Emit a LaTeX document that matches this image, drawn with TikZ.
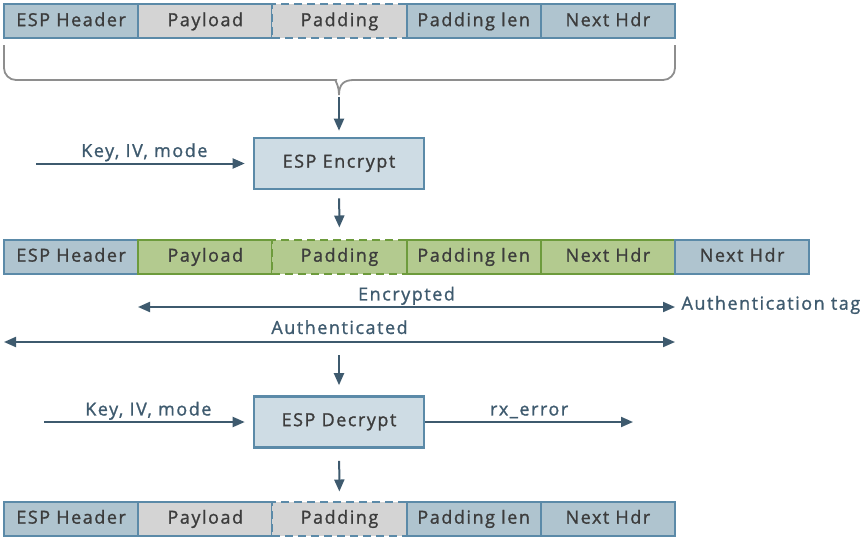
\documentclass[tikz,border=0pt]{standalone}
\usepackage{fontspec}
\setmainfont{Open Sans}[LetterSpace=8.5, FakeBold=1.2]
\usetikzlibrary{positioning,arrows.meta}
\definecolor{slate}{HTML}{3E5A6E}
\definecolor{frame}{HTML}{5B8AA8}
\definecolor{steel}{HTML}{AFC4CF}
\definecolor{lgray}{HTML}{D4D4D4}
\definecolor{leaf}{HTML}{B3CA8F}
\definecolor{leafline}{HTML}{6D9B3C}
\definecolor{pale}{HTML}{CEDCE4}
\definecolor{txt}{HTML}{3C3C3C}
\definecolor{brace}{HTML}{8E8E8E}

\begin{document}
\begin{tikzpicture}[x=1pt, y=-1pt,
    cell/.style={draw=frame, line width=2pt, minimum width=134.2pt, minimum height=34pt,
      inner sep=0pt, outer sep=0pt, text height=1.25em, text depth=0.22em,
      font=\fontsize{18}{20}\selectfont, text=txt},
    hdr/.style={cell, fill=steel},
    pay/.style={cell, fill=lgray},
    pad/.style={cell, fill=lgray, dash pattern=on 8pt off 5pt},
    grn/.style={cell, fill=leaf, draw=leafline},
    grnpad/.style={grn, dash pattern=on 8pt off 5pt},
    box/.style={draw=frame, line width=2.6pt, fill=pale, minimum width=170pt, minimum height=51pt,
      text height=1.05em, text depth=0.22em, font=\fontsize{18}{20}\selectfont, text=txt},
    arr/.style={draw=slate, line width=2pt, -{Triangle[length=12pt,width=10pt]}},
    both/.style={draw=slate, line width=2pt, {Triangle[length=12pt,width=10pt]}-{Triangle[length=12pt,width=10pt]}},
    lbl/.style={text=slate, text height=0.75em, text depth=0.22em, font=\fontsize{18}{20}\selectfont}]
  \useasboundingbox (0,0) rectangle (864,538);

  % plain packet
  \node[hdr] (h1) at (71.1,21) {ESP Header};
  \node[pay, right=0pt of h1] (p1) {Payload};
  \node[pad, right=0pt of p1] (d1) {Padding};
  \node[hdr, right=0pt of d1] (l1) {Padding len};
  \node[hdr, right=0pt of l1] (n1) {Next Hdr};

  \draw[brace, line width=1.8pt] (4,45) [rounded corners=12pt] -- (4,80) -- (324,80) [sharp corners]
    .. controls (334,80) and (339,84) .. (339,95) .. controls (339,84) and (344,80) .. (354,80)
    [rounded corners=12pt] -- (675,80) -- (675,45);
  \coordinate (bt) at (339,97);

  % encrypt
  \node[box] (enc) at (339,163.5) {ESP Encrypt};
  \draw[arr, shorten >=6pt] (bt) -- (enc);
  \coordinate (k1) at (36,163.5);
  \draw[arr, shorten >=8pt] (k1) -- (enc) node[lbl, midway, above=0pt] {Key, IV, mode};

  % encrypted packet
  \node[hdr] (h2) at (71.1,256.5) {ESP Header};
  \node[grn, right=0pt of h2] (p2) {Payload};
  \node[grnpad, right=0pt of p2] (d2) {Padding};
  \node[grn, right=0pt of d2] (l2) {Padding len};
  \node[grn, right=0pt of l2] (n2) {Next Hdr};
  \node[hdr, right=0pt of n2] (t2) {Next Hdr};
  \draw[arr, shorten <=8pt, shorten >=12pt] (enc) -- (d2);

  \coordinate (e1) at (138,307);
  \coordinate (e2) at (675,307);
  \draw[both] (e1) -- (e2) node[lbl, midway, above=0pt] {Encrypted};
  \node[lbl, right=3pt of e2, anchor=west] (tag) {Authentication tag};
  \coordinate (a1) at (4,342);
  \coordinate (a2) at (675,342);
  \draw[both] (a1) -- (a2) node[lbl, midway, above=1.5pt] {Authenticated};

  % decrypt
  \node[box] (dec) at (339,422) {ESP Decrypt};
  \coordinate (a3) at (339,355);
  \draw[arr, shorten >=10pt] (a3) -- (dec);
  \coordinate (k2) at (44,422);
  \draw[arr, shorten >=8pt] (k2) -- (dec) node[lbl, midway, above=0pt] {Key, IV, mode};
  \coordinate (rx) at (633,422);
  \draw[arr] (dec) -- (rx) node[lbl, midway, above=0pt] {rx\_error};

  % decrypted packet
  \node[hdr] (h3) at (71.1,518.5) {ESP Header};
  \node[pay, right=0pt of h3] (p3) {Payload};
  \node[pad, right=0pt of p3] (d3) {Padding};
  \node[hdr, right=0pt of d3] (l3) {Padding len};
  \node[hdr, right=0pt of l3] (n3) {Next Hdr};
  \draw[arr, shorten <=12pt, shorten >=10pt] (dec) -- (d3);
\end{tikzpicture}
\end{document}
